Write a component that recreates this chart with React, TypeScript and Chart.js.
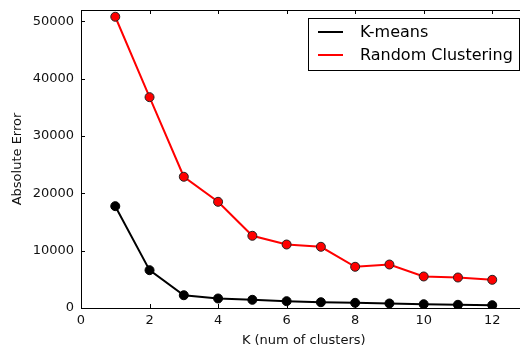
import React, { useEffect, useRef } from "react";
import { Chart, registerables } from "chart.js";

Chart.register(...registerables);

const kValues = [1, 2, 3, 4, 5, 6, 7, 8, 9, 10, 11, 12];
const kmeansError = [17770, 6600, 2230, 1660, 1430, 1190, 1010, 900, 790, 660, 560, 490];
const randomError = [50820, 36790, 22900, 18530, 12600, 11080, 10680, 7190, 7590, 5500, 5320, 4920];
const seriesLabels = ["K-means", "Random Clustering"];
const seriesColors = ["#000000", "#ff0000"];
const xTickValues = [0, 2, 4, 6, 8, 10, 12];
const yTickValues = [0, 10000, 20000, 30000, 40000, 50000];
const xTitle = "K (num of clusters)";
const yTitle = "Absolute Error";

const FONT = "'DejaVu Sans', sans-serif";

const framePlugin = {
  id: "frame",
  afterDraw(chart: any) {
    const { ctx, chartArea } = chart;
    const { left, right, top, bottom } = chartArea;
    const xs = chart.scales.x;
    const ys = chart.scales.y;
    ctx.save();
    ctx.strokeStyle = "#000";
    ctx.lineWidth = 1;
    ctx.beginPath();
    ctx.rect(Math.round(left) + 0.5, Math.round(top) + 0.5, Math.round(right - left), Math.round(bottom - top));
    ctx.stroke();
    ctx.beginPath();
    const tl = 4;
    xs.ticks.forEach((t: any) => {
      const px = Math.round(xs.getPixelForValue(t.value)) + 0.5;
      ctx.moveTo(px, bottom);
      ctx.lineTo(px, bottom - tl);
      ctx.moveTo(px, top);
      ctx.lineTo(px, top + tl);
    });
    ys.ticks.forEach((t: any) => {
      const py = Math.round(ys.getPixelForValue(t.value)) + 0.5;
      ctx.moveTo(left, py);
      ctx.lineTo(left + tl, py);
      ctx.moveTo(right, py);
      ctx.lineTo(right - tl, py);
    });
    ctx.stroke();

    // legend
    const boxRight = 519;
    const boxTop = Math.round(top) + 8;
    const boxW = 211;
    const boxH = 52;
    const boxLeft = boxRight - boxW;
    ctx.fillStyle = "#fff";
    ctx.fillRect(boxLeft, boxTop, boxW, boxH);
    ctx.strokeStyle = "#000";
    ctx.strokeRect(boxLeft + 0.5, boxTop + 0.5, boxW, boxH);
    ctx.font = `16px ${FONT}`;
    ctx.textBaseline = "middle";
    ctx.textAlign = "left";
    chart.data.datasets.forEach((ds: any, i: number) => {
      const cy = boxTop + 14 + i * 23;
      ctx.strokeStyle = ds.borderColor;
      ctx.lineWidth = 2;
      ctx.beginPath();
      ctx.moveTo(boxLeft + 10, cy);
      ctx.lineTo(boxLeft + 35, cy);
      ctx.stroke();
      ctx.fillStyle = "#000";
      ctx.fillText(ds.label, boxLeft + 52, cy + 1);
    });
    ctx.restore();
  },
};

export default function App() {
  const canvasRef = useRef<HTMLCanvasElement | null>(null);

  useEffect(() => {
    if (!canvasRef.current) return;
    const chart = new Chart(canvasRef.current, {
      type: "line",
      data: {
        datasets: [
          {
            label: seriesLabels[0],
            data: kValues.map((k, i) => ({ x: k, y: kmeansError[i] })),
            borderColor: seriesColors[0],
            backgroundColor: seriesColors[0],
            pointBackgroundColor: seriesColors[0],
            pointBorderColor: "#000",
            pointBorderWidth: 1,
            pointRadius: 4.5,
            borderWidth: 2,
            tension: 0,
          },
          {
            label: seriesLabels[1],
            data: kValues.map((k, i) => ({ x: k, y: randomError[i] })),
            borderColor: seriesColors[1],
            backgroundColor: seriesColors[1],
            pointBackgroundColor: seriesColors[1],
            pointBorderColor: "#222",
            pointBorderWidth: 1,
            pointRadius: 4.5,
            borderWidth: 2,
            tension: 0,
          },
        ],
      },
      options: {
        responsive: false,
        animation: false,
        layout: { padding: { top: 10, right: 2, left: 0, bottom: 0 } },
        plugins: { legend: { display: false }, tooltip: { enabled: false } },
        scales: {
          x: {
            type: "linear",
            min: 0,
            max: 13,
            grid: { display: false, drawTicks: false },
            border: { display: false },
            afterBuildTicks(scale: any) {
              scale.ticks = xTickValues.map((v) => ({ value: v }));
            },
            ticks: {
              padding: 5,
              color: "#111",
              font: { family: FONT, size: 13 },
              maxRotation: 0,
              callback: (v: any) => String(v),
            },
            title: {
              display: true,
              text: xTitle,
              color: "#111",
              font: { family: FONT, size: 13 },
              padding: { top: 0, bottom: 0 },
            },
            afterFit(scale: any) {
              scale.height = 40;
              scale.paddingLeft = 0;
              scale.paddingRight = 0;
            },
          },
          y: {
            type: "linear",
            min: 0,
            max: 52000,
            grid: { display: false, drawTicks: false },
            border: { display: false },
            afterBuildTicks(scale: any) {
              scale.ticks = yTickValues.map((v) => ({ value: v }));
            },
            ticks: {
              padding: 7,
              color: "#111",
              font: { family: FONT, size: 13 },
              callback: (v: any) => String(v),
            },
            title: {
              display: true,
              text: yTitle,
              color: "#111",
              font: { family: FONT, size: 13 },
              padding: { top: 10, bottom: 0 },
            },
            afterFit(scale: any) {
              scale.width = 81;
              scale.paddingTop = 0;
              scale.paddingBottom = 0;
            },
          },
        },
      },
      plugins: [framePlugin],
    });
    return () => chart.destroy();
  }, []);

  return (
    <div
      style={{
        position: "fixed",
        left: 0,
        top: 0,
        width: 520,
        height: 348,
        overflow: "hidden",
        background: "#fff",
      }}
    >
      <canvas ref={canvasRef} width={532} height={348} style={{ display: "block" }} />
    </div>
  );
}
